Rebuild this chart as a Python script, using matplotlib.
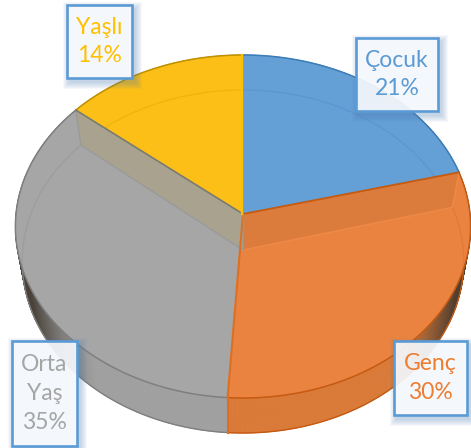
import numpy as np
import matplotlib
matplotlib.use('Agg')
import matplotlib.pyplot as plt
from matplotlib.patches import Rectangle

plt.rcParams['font.family'] = ['Lato', 'DejaVu Sans']

labels = ['Çocuk', 'Genç', 'Orta\nYaş', 'Yaşlı']
values = [21, 30, 35, 14]

colors = ['#649FD5', '#EB8340', '#A6A6A6', '#FBBF17']
edge_colors = ['#3D7DB8', '#C55A11', '#7F7F7F', '#BF9000']
wall_colors = ['#4F88BC', '#D97A38', '#A0A0A0', '#D9A514']
text_colors = ['#5B9BD5', '#ED7D31', '#A5A5A5', '#FFC000']
# label boxes in pixels: left, top, right, bottom
boxes = [(356, 38, 438, 111), (394, 341, 467, 415), (12, 341, 77, 446), (67, 5, 132, 78)]

# projection of the tilted disc, in pixels
cx, cy = 243, 214
rx, ry = 227, 170.6
persp = 0.0729
depth = 35
low_scale = 0.97


def project(frac, low=False):
    # frac is the running share of the pie, clockwise from the top
    ang = 2 * np.pi * np.asarray(frac)
    u, v = np.sin(ang), np.cos(ang)
    w = 1 / (1 + persp * v)
    x = cx + rx * u * w * (low_scale if low else 1)
    y = cy - ry * v * w + (depth if low else 0)
    return x, y


def mix(c1, c2, t):
    a = np.array(matplotlib.colors.to_rgb(c1))
    b = np.array(matplotlib.colors.to_rgb(c2))
    return tuple(a + (b - a) * t)


fig = plt.figure(figsize=(4.71, 4.48), dpi=100)
ax = fig.add_axes([0, 0, 1, 1])
ax.set_xlim(0, 471)
ax.set_ylim(448, 0)
ax.axis('off')

total = sum(values)
starts = np.cumsum([0] + values[:-1]) / total
ends = np.cumsum(values) / total

# side wall, split into little quads so it can darken towards the edges
for i in range(4):
    fr = np.linspace(starts[i], ends[i], int(values[i] * 6) + 2)
    xt, yt = project(fr)
    xb, yb = project(fr, low=True)
    for j in range(len(fr) - 1):
        ux = abs(np.sin(2 * np.pi * (fr[j] + fr[j + 1]) / 2))
        t = np.clip((ux - 0.62) / 0.3, 0, 1) ** 1.3
        c = mix(wall_colors[i], '#40382F', t * 0.9)
        ax.fill([xt[j], xt[j + 1], xb[j + 1], xb[j]], [yt[j], yt[j + 1], yb[j + 1], yb[j]],
                color=c, lw=0.6, zorder=1)
    ax.plot(xb, yb, color=edge_colors[i], lw=1, zorder=1.5)

# top surface
fr_all = np.linspace(0, 1, 361)
xe, ye = project(fr_all)
clip_top = ax.fill(xe, ye, color='none', lw=0, zorder=0)[0]
for i in range(4):
    fr = np.linspace(starts[i], ends[i], 120)
    x, y = project(fr)
    ax.fill(np.r_[cx, x], np.r_[cy, y], color=colors[i], lw=0, zorder=2)
    ax.plot(x, y, color=edge_colors[i], lw=1.1, zorder=5)
    # lower rim showing through the surface
    xl, yl = project(fr, low=True)
    ln, = ax.plot(xl, yl, color=edge_colors[i], lw=1, alpha=0.22, zorder=3)
    ln.set_clip_path(clip_top)

# inner cut faces seen through the surface
x1, y1 = project(ends[0])
x2, y2 = project(ends[0], low=True)
ax.fill([cx, x1, x2, cx], [cy, y1, y2, cy + depth + 1], color='#DB7B3C', lw=0, zorder=3.5)
ax.plot([cx, x1], [cy, y1], color='#C55A11', lw=1.3, zorder=5)
ax.plot([x1, x2, cx], [y1, y2, cy + depth + 1], color='#EE8A48', lw=1, zorder=4)

x1, y1 = project(ends[2])
x2, y2 = project(ends[2], low=True)
ax.fill([cx, x1, x2, cx], [cy, y1, y2, cy + depth + 1], color='#A8A28F', lw=0, zorder=3.5)
ax.plot([cx, x1], [cy, y1], color='#7A7A70', lw=1.2, zorder=5)
ax.plot([x1, x2, cx], [y1, y2, cy + depth + 1], color='#9A9A9A', lw=1, zorder=4)

# boundary between the orange and grey slices, with its front edge
x1, y1 = project(ends[1])
x2, y2 = project(ends[1], low=True)
ax.plot([cx, x1], [cy, y1], color='#DD6F22', lw=1.5, zorder=5)
ax.plot([x1, x1], [y1, y2], color='#DD6F22', lw=1.5, zorder=5)
ax.plot([cx - 1, cx - 1], [project(0)[1], cy], color='#FFC000', lw=1.6, zorder=5)
ax.plot([cx, cx], [cy, cy + depth], color='#8E9AA6', lw=1, alpha=0.7, zorder=5)

# labels
for i in range(4):
    l, t, r, b = boxes[i]
    for grow in range(7, 0, -1):
        ax.add_patch(Rectangle((l + 3 - grow, t + 4 - grow), r - l + 2 * grow, b - t + 2 * grow,
                               fc='#4F7FB5', ec='none', alpha=0.05, zorder=6))
    ax.add_patch(Rectangle((l, t), r - l, b - t, fc='#FAFBFE', ec='none', alpha=0.9, zorder=7))
    ax.add_patch(Rectangle((l, t), r - l, b - t, fc='none', ec='#5B9BD5', lw=1.9, zorder=8))
    ax.text((l + r) / 2, (t + b) / 2, '%s\n%d%%' % (labels[i], values[i]), color=text_colors[i],
            fontsize=16.5, ha='center', va='center', linespacing=1.45, zorder=9)

fig.savefig('out.png', dpi=100)
